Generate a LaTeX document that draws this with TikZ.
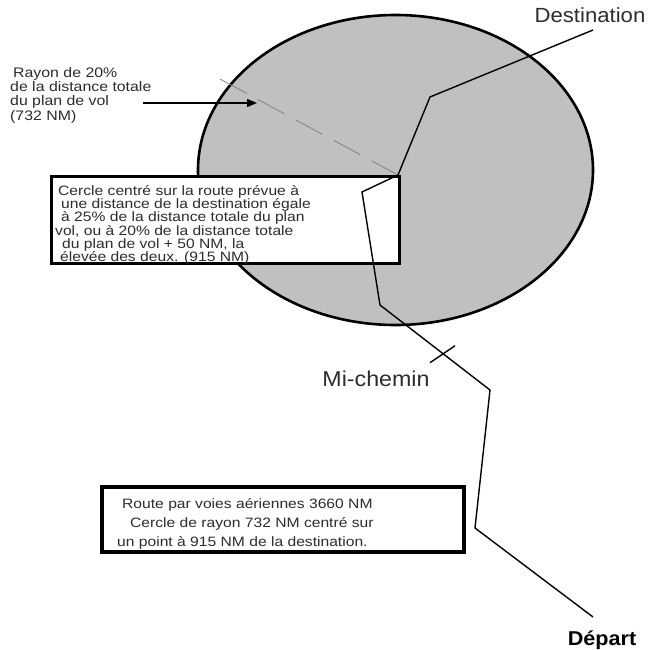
\documentclass[tikz,border=0pt]{standalone}
\usepackage{fontspec}
\setmainfont{Liberation Sans}[FakeStretch=1.08]
\newfontfamily\bodyfont{Liberation Sans}[FakeStretch=1.15]
\usetikzlibrary{arrows.meta,calc}
\definecolor{zonegray}{RGB}{192,192,192}
\definecolor{inkgray}{RGB}{45,45,45}
\definecolor{radgray}{RGB}{130,130,130}
\tikzset{
  body/.style={text=inkgray, inner sep=0pt, align=left},
  frame/.style={draw=black, line width=3pt, fill=white, inner sep=0pt},
  route/.style={draw=black, line width=1.4pt, line join=miter},
  bigtag/.style={text=inkgray, inner sep=0pt, font=\fontsize{20.5}{24}\selectfont},
}
\newcommand{\tightlines}[2]{\bodyfont\fontsize{#1}{#2}\selectfont\lineskiplimit=-20pt\lineskip=0pt}
\begin{document}
\begin{tikzpicture}[x=1pt,y=-1pt]
\useasboundingbox (0,0) rectangle (654,650);
\fill[white] (0,0) rectangle (654,650);

% alternate area circle
\draw[fill=zonegray, line width=2.6pt] (395.5,170) ellipse [x radius=197.5, y radius=155];

% route points
\coordinate (dest) at (593,30);
\coordinate (p1)   at (430,97);
\coordinate (ctr)  at (398,175);
\coordinate (p2)   at (362,192);
\coordinate (p3)   at (380,305);
\coordinate (p4)   at (490,390);
\coordinate (p5)   at (475,528);
\coordinate (dep)  at (593,617);

% radius of the circle
\coordinate (redge) at (218,78);
\draw[radgray, line width=0.8pt, dash pattern=on 30pt off 13pt] (ctr) -- (redge);

% radius callout
\node[body, anchor=north west, font=\tightlines{13.8}{14.3}] (rayon) at (10,67)
  {\hspace*{3pt}Rayon de 20\%\\de la distance totale\\du plan de vol\\(732 NM)};
\coordinate (atail) at (143,103);
\coordinate (ahead) at (257,103);
\draw[line width=1.4pt, -{Triangle[length=10pt,width=8pt]}] (atail) -- (ahead);

% circle description box
\node[frame, anchor=north west, minimum width=348, minimum height=87] (cbox) at (50,175) {};
\node[body, anchor=north west, font=\tightlines{13.6}{13.3}] (ctext) at (55,185)
  {\hspace*{3pt}Cercle centré sur la route prévue à\\
   \hspace*{6pt}une distance de la destination égale\\
   \hspace*{6pt}à 25\% de la distance totale du plan\\
   vol, ou à 20\% de la distance totale\\
   \hspace*{7pt}du plan de vol + 50 NM, la\\
   \hspace*{5pt}élevée des deux. (915 NM)};

% route box
\node[frame, line width=3.5pt, anchor=north west, minimum width=362, minimum height=65] (rbox) at (100,485) {};
\node[body, anchor=north west, font=\tightlines{13.6}{19}] (rtext) at (117,498)
  {\hspace*{5pt}Route par voies aériennes 3660 NM\\
   \hspace*{13pt}Cercle de rayon 732 NM centré sur\\
   un point à 915 NM de la destination.};

% planned route
\draw[route] (dest) -- (p1) -- (ctr) -- (p2) -- (p3) -- (p4) -- (p5) -- (dep);

% mid-point tick
\coordinate (mid) at ($(p3)!0.573!(p4)$);
\draw[route] ($(mid)+(-13,9)$) -- ($(mid)+(12,-8)$);

% labels
\node[bigtag] (destlbl) at (590,15) {Destination};
\node[bigtag, font=\fontsize{21.5}{24}\selectfont] (midlbl) at (376,379) {Mi-chemin};
\node[bigtag, font=\fontsize{20}{24}\bfseries\selectfont, text=black] (deplbl) at (602,640) {Départ};
\end{tikzpicture}
\end{document}
